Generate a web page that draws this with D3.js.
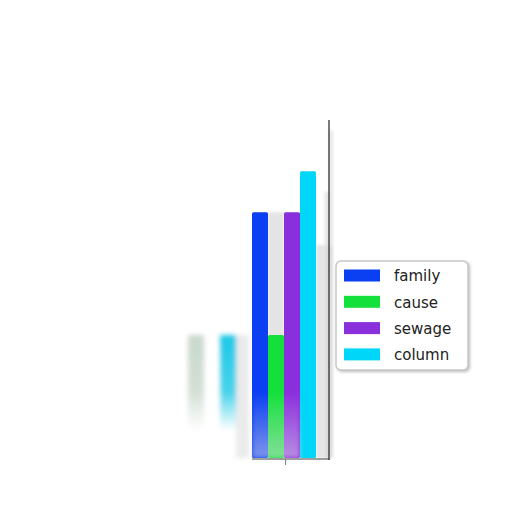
<!DOCTYPE html>
<html><head><meta charset="utf-8">
<script src="https://cdn.jsdelivr.net/npm/d3@7"></script>
<style>body{margin:0;background:#fff}svg{display:block}</style>
</head><body>
<script>
// Data
const categories = ["family", "cause", "sewage", "column"];
const values = [6, 3, 6, 7];
const colors = ["#0a3ff2", "#14e03c", "#8a2fdc", "#00d6f7"];
const ghostSlots = [0, 2];
const ghostValues = [3, 3];
const ghostColors = ["#c9d8cc", "#1cc8e6"];
const mainSlots = [4, 5, 6, 7];
const backdropSlots = [5, 8];
const backdropValues = [6, 5.2];

const W = 512, H = 512;
const svg = d3.select("body").append("svg").attr("width", W).attr("height", H);
const defs = svg.append("defs");
defs.append("filter").attr("id", "blur").attr("x", "-50%").attr("y", "-20%").attr("width", "200%").attr("height", "140%")
  .append("feGaussianBlur").attr("stdDeviation", 2.5);
defs.append("filter").attr("id", "blurS").attr("x", "-50%").attr("y", "-50%").attr("width", "200%").attr("height", "200%")
  .append("feGaussianBlur").attr("stdDeviation", 1.5);
const fade = defs.append("linearGradient").attr("id", "fade").attr("x1", 0).attr("x2", 0).attr("y1", 0).attr("y2", 1);
fade.append("stop").attr("offset", "0%").attr("stop-color", "#fff").attr("stop-opacity", 0);
fade.append("stop").attr("offset", "45%").attr("stop-color", "#fff").attr("stop-opacity", 0.2);
fade.append("stop").attr("offset", "75%").attr("stop-color", "#fff").attr("stop-opacity", 1);
fade.append("stop").attr("offset", "100%").attr("stop-color", "#fff").attr("stop-opacity", 1);
const fadeLow = defs.append("linearGradient").attr("id", "fadeLow").attr("x1", 0).attr("x2", 0).attr("y1", 0).attr("y2", 1);
fadeLow.append("stop").attr("offset", "0%").attr("stop-color", "#e6e6ea").attr("stop-opacity", 0);
fadeLow.append("stop").attr("offset", "100%").attr("stop-color", "#dcdce4").attr("stop-opacity", 0.55);
const spineG = defs.append("linearGradient").attr("id", "spineG").attr("x1", 0).attr("x2", 1);
spineG.append("stop").attr("offset", "0%").attr("stop-color", "#fff").attr("stop-opacity", 0);
spineG.append("stop").attr("offset", "100%").attr("stop-color", "#c8c8c8").attr("stop-opacity", 0.9);

const x = d3.scaleLinear().domain([0, 9]).range([188, 332]);
const bw = x(1) - x(0);
const y = d3.scaleLinear().domain([0, 8.25]).range([458, 120]);

// backdrop light gray bars
svg.append("g").selectAll("rect").data(backdropValues).join("rect")
  .attr("x", (d, i) => x(backdropSlots[i]))
  .attr("y", d => y(d))
  .attr("width", bw)
  .attr("height", d => y(0) - y(d))
  .attr("fill", "#e4e4e4")
  .attr("filter", "url(#blurS)");

// shadow near spine
svg.append("rect").attr("x", x(8.3)).attr("y", y(6.5)).attr("width", 329 - x(8.3)).attr("height", y(0) - y(6.5))
  .attr("fill", "url(#spineG)").attr("filter", "url(#blurS)");
svg.append("rect").attr("x", 329).attr("y", y(8)).attr("width", 4).attr("height", y(0) - y(8))
  .attr("fill", "#d6d6d6").attr("opacity", 0.6).attr("filter", "url(#blurS)");

// ghost group (blurred, fading)
const ghost = svg.append("g").attr("filter", "url(#blur)");
ghost.selectAll("rect.g").data(ghostValues).join("rect").attr("class", "g")
  .attr("x", (d, i) => x(ghostSlots[i]))
  .attr("y", d => y(d))
  .attr("width", bw)
  .attr("height", d => y(0) - y(d))
  .attr("fill", (d, i) => ghostColors[i]);
ghost.selectAll("rect.f").data(ghostValues).join("rect").attr("class", "f")
  .attr("x", (d, i) => x(ghostSlots[i]) - 4)
  .attr("y", d => y(d))
  .attr("width", bw + 8)
  .attr("height", d => y(0) - y(d) + 4)
  .attr("fill", "url(#fade)");
ghost.append("rect").attr("x", x(3)).attr("y", y(3)).attr("width", bw * 0.8).attr("height", y(0) - y(3))
  .attr("fill", "#d8d8d8").attr("opacity", 0.5);

// main bars
svg.append("g").selectAll("rect").data(values).join("rect")
  .attr("x", (d, i) => x(mainSlots[i]))
  .attr("y", d => y(d))
  .attr("width", bw)
  .attr("height", d => y(0) - y(d))
  .attr("rx", 1.5)
  .attr("fill", (d, i) => colors[i]);
svg.append("g").attr("filter", "url(#blur)").selectAll("rect").data(values.slice(0, 3)).join("rect")
  .attr("x", (d, i) => x(mainSlots[i]))
  .attr("y", y(1.6))
  .attr("width", bw)
  .attr("height", y(0) - y(1.6))
  .attr("fill", "url(#fadeLow)");

// axes lines
svg.append("line").attr("x1", 329).attr("x2", 329).attr("y1", y(8.25)).attr("y2", 460)
  .attr("stroke", "#222").attr("stroke-width", 1.2);
svg.append("line").attr("x1", x(4)).attr("x2", 330).attr("y1", 459).attr("y2", 459)
  .attr("stroke", "#444").attr("stroke-width", 1);
svg.append("line").attr("x1", x(6.1)).attr("x2", x(6.1)).attr("y1", 459).attr("y2", 465)
  .attr("stroke", "#777").attr("stroke-width", 1);

// legend
const lg = svg.append("g").attr("transform", "translate(336,261)");
lg.append("rect").attr("x", 1).attr("y", 1).attr("width", 133).attr("height", 110).attr("rx", 5)
  .attr("fill", "#bbb").attr("filter", "url(#blurS)");
lg.append("rect").attr("width", 132).attr("height", 109).attr("rx", 5)
  .attr("fill", "#fff").attr("stroke", "#c8c8c8").attr("stroke-width", 1.5);
const items = lg.selectAll("g.it").data(categories).join("g").attr("class", "it")
  .attr("transform", (d, i) => `translate(0,${14.5 + i * 26.3})`);
items.append("rect").attr("x", 8).attr("y", -6).attr("width", 36).attr("height", 12)
  .attr("fill", (d, i) => colors[i]);
items.append("text").attr("x", 58).attr("y", 0.5).attr("dy", "0.35em")
  .attr("font-family", "DejaVu Sans").attr("font-size", 15).attr("fill", "#222").text(d => d);
</script>
</body></html>
